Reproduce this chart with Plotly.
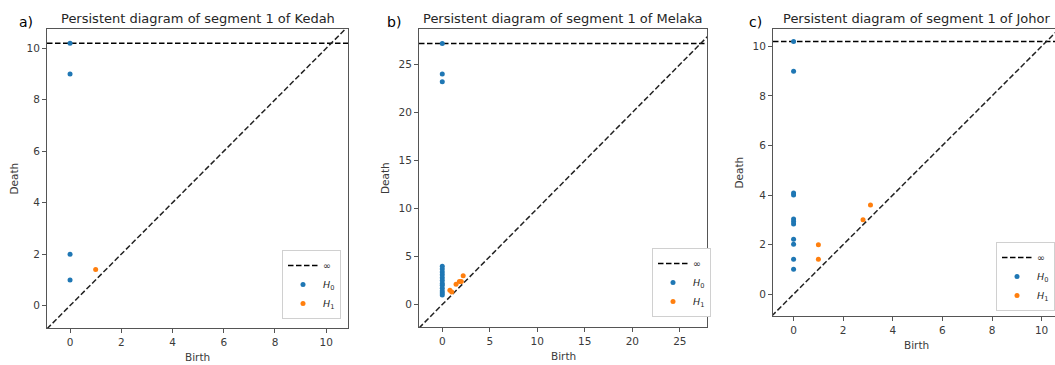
import plotly.graph_objects as go

W, H = 1055, 365

# ---------------- data ----------------
regions = ["Kedah", "Melaka", "Johor"]
panel_tags = ["a)", "b)", "c)"]

# infinite death value (plotted on the ∞ line)
inf_values = [10.2, 27.2, 10.2]

kedah_h0_birth = [0, 0, 0, 0]
kedah_h0_death = [10.2, 9.0, 2.0, 1.0]
kedah_h1_birth = [1.0]
kedah_h1_death = [1.4]

melaka_h0_birth = [0, 0, 0, 0, 0, 0, 0, 0, 0, 0, 0, 0, 0, 0, 0]
melaka_h0_death = [27.2, 24.0, 23.2, 4.0, 3.7, 3.4, 3.1, 2.8, 2.5, 2.2, 2.0, 1.7, 1.4, 1.2, 1.0]
melaka_h1_birth = [0.8, 1.0, 1.45, 1.8, 2.0, 2.2]
melaka_h1_death = [1.5, 1.3, 2.1, 2.4, 2.4, 3.0]

johor_h0_birth = [0, 0, 0, 0, 0, 0, 0, 0, 0, 0, 0]
johor_h0_death = [10.2, 9.0, 4.08, 4.0, 3.03, 2.93, 2.83, 2.22, 2.02, 1.41, 1.01]
johor_h1_birth = [1.0, 1.0, 2.8, 3.1]
johor_h1_death = [1.99, 1.41, 3.0, 3.6]

h0_births = [kedah_h0_birth, melaka_h0_birth, johor_h0_birth]
h0_deaths = [kedah_h0_death, melaka_h0_death, johor_h0_death]
h1_births = [kedah_h1_birth, melaka_h1_birth, johor_h1_birth]
h1_deaths = [kedah_h1_death, melaka_h1_death, johor_h1_death]

x_ticks = [[0, 2, 4, 6, 8, 10], [0, 5, 10, 15, 20, 25], [0, 2, 4, 6, 8, 10]]
y_ticks = [[0, 2, 4, 6, 8, 10], [0, 5, 10, 15, 20, 25], [0, 2, 4, 6, 8, 10]]

# ---------------- layout geometry (pixels) ----------------
# left, right, top, bottom of each plot area
boxes = [(47, 348, 29, 328), (419, 707, 29, 327), (773, 1055, 29, 316)]
x_ranges = [(-0.9, 10.85), (-2.45, 27.86), (-0.83, 10.54)]
y_ranges = [(-0.87, 10.75), (-2.34, 28.7), (-0.88, 10.7)]
title_cx = [197.5, 563, 916]
birth_cx = [197.5, 563, 916]
tag_pos = [(26, 22), (394, 22), (755, 22)]
ylabel_x = [13, 385, 738]
xlabel_y = [357, 356, 345]
legend_box = [(342, 320), (712, 318), (1058, 312)]  # right, bottom

BLUE = "#1f77b4"
ORANGE = "#ff7f0e"
FONT = "DejaVu Sans"
TXT = "#262626"
DASH = "5.5px,2.5px"


def px_x(x):
    return min(x / W, 1.0)


def px_y(y):
    return 1 - y / H


fig = go.Figure()
annotations = []
layout_axes = {}

for i in range(3):
    n = "" if i == 0 else str(i + 1)
    xa, ya = "x" + n, "y" + n
    leg = "legend" + n
    l, r, t, b = boxes[i]
    x0, x1 = x_ranges[i]
    y0, y1 = y_ranges[i]
    lo, hi = min(x0, y0), max(x1, y1)

    # infinity line
    fig.add_trace(go.Scatter(
        x=[x0, x1], y=[inf_values[i], inf_values[i]], mode="lines",
        line=dict(color="black", dash=DASH, width=1.5),
        name="∞", xaxis=xa, yaxis=ya, legend=leg, showlegend=True,
    ))
    # diagonal
    fig.add_trace(go.Scatter(
        x=[lo, hi], y=[lo, hi], mode="lines",
        line=dict(color="#222222", dash=DASH, width=1.5),
        xaxis=xa, yaxis=ya, showlegend=False, hoverinfo="skip",
    ))
    fig.add_trace(go.Scatter(
        x=h0_births[i], y=h0_deaths[i], mode="markers",
        marker=dict(color=BLUE, size=5, line=dict(width=0)),
        name="<i>H</i><sub>0</sub>", xaxis=xa, yaxis=ya, legend=leg,
    ))
    fig.add_trace(go.Scatter(
        x=h1_births[i], y=h1_deaths[i], mode="markers",
        marker=dict(color=ORANGE, size=5, line=dict(width=0)),
        name="<i>H</i><sub>1</sub>", xaxis=xa, yaxis=ya, legend=leg,
    ))

    axis_common = dict(
        showgrid=False, zeroline=False, showline=True, mirror=True,
        linecolor="#555555", linewidth=1, ticks="outside", ticklen=4,
        tickcolor="#555555", tickfont=dict(family=FONT, size=10.5, color="#3a3a3a"),
    )
    layout_axes["xaxis" + n] = dict(
        axis_common, domain=[px_x(l), px_x(r)], range=[x0, x1],
        tickvals=x_ticks[i], anchor=ya,
    )
    layout_axes["yaxis" + n] = dict(
        axis_common, domain=[px_y(b), px_y(t)], range=[y0, y1],
        tickvals=y_ticks[i], anchor=xa,
    )

    lr, lb = legend_box[i]
    layout_axes[leg] = dict(
        x=px_x(lr - 1), y=px_y(lb - 1), xanchor="right", yanchor="bottom",
        xref="paper", yref="paper",
        bgcolor="white", bordercolor="#d0d0d0", borderwidth=1,
        font=dict(family=FONT, size=9.5, color=TXT),
        itemwidth=30, tracegroupgap=0,
    )

    annotations.append(dict(
        text=f"Persistent diagram of segment 1 of {regions[i]}",
        x=px_x(title_cx[i]), y=px_y(18), xref="paper", yref="paper",
        xanchor="center", yanchor="middle", showarrow=False,
        font=dict(family=FONT, size=13, color=TXT),
    ))
    annotations.append(dict(
        text=panel_tags[i], x=px_x(tag_pos[i][0]), y=px_y(tag_pos[i][1]),
        xref="paper", yref="paper", xanchor="center", yanchor="middle",
        showarrow=False, font=dict(family=FONT, size=14, color="black"),
    ))
    annotations.append(dict(
        text="Birth", x=px_x(birth_cx[i]), y=px_y(xlabel_y[i]),
        xref="paper", yref="paper", xanchor="center", yanchor="middle",
        showarrow=False, font=dict(family=FONT, size=10.5, color="#3a3a3a"),
    ))
    annotations.append(dict(
        text="Death", x=px_x(ylabel_x[i]), y=px_y((t + b) / 2),
        xref="paper", yref="paper", xanchor="center", yanchor="middle",
        textangle=-90, showarrow=False,
        font=dict(family=FONT, size=10.5, color="#3a3a3a"),
    ))

fig.update_layout(
    width=W, height=H, margin=dict(l=0, r=0, t=0, b=0),
    plot_bgcolor="white", paper_bgcolor="white",
    annotations=annotations, **layout_axes,
)

fig.write_html("out.html")
